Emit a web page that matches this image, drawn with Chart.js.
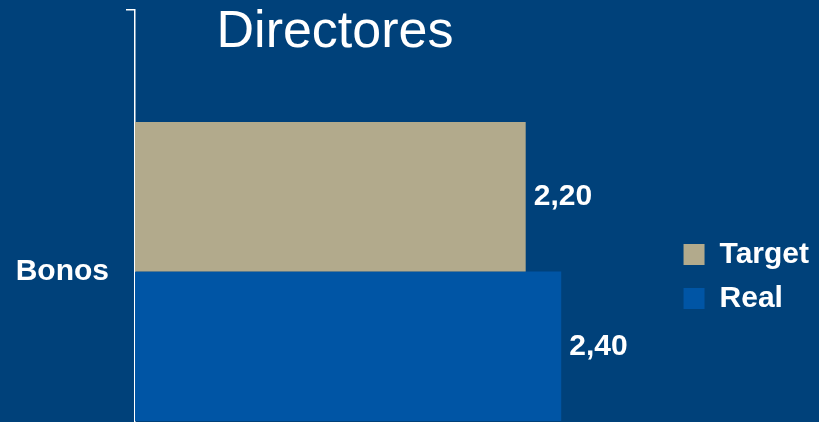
<!DOCTYPE html>
<html>
<head>
<meta charset="utf-8">
<script src="https://cdn.jsdelivr.net/npm/chart.js@4"></script>
<style>
  html, body { margin: 0; padding: 0; background: #00417a; overflow: hidden; }
  #wrap { width: 819px; height: 545px; position: relative; }
</style>
</head>
<body>
<div id="wrap"><canvas id="chart"></canvas></div>
<script>
// datos del gráfico
const categorias = ['Bonos'];
const target = [2.20];
const real = [2.40];
const titulo = 'Directores';

const fuente = "'Liberation Sans', Arial, sans-serif";

// título dentro del área del gráfico
const tituloPlugin = {
    id: 'tituloPlugin',
    afterDraw(chart) {
        const c = chart.ctx;
        c.save();
        c.fillStyle = '#ffffff';
        c.font = '52px ' + fuente;
        c.textAlign = 'center';
        c.textBaseline = 'alphabetic';
        c.fillText(titulo, 335, 47);
        c.restore();
    }
};

// etiquetas de valor al final de cada barra
const valoresPlugin = {
    id: 'valoresPlugin',
    afterDatasetsDraw(chart) {
        const c = chart.ctx;
        c.save();
        c.fillStyle = '#ffffff';
        c.font = 'bold 30px ' + fuente;
        c.textAlign = 'left';
        c.textBaseline = 'middle';
        chart.data.datasets.forEach((ds, i) => {
            chart.getDatasetMeta(i).data.forEach((bar, j) => {
                const txt = ds.data[j].toFixed(2).replace('.', ',');
                c.fillText(txt, bar.x + 8, bar.y);
            });
        });
        c.restore();
    }
};

new Chart(document.getElementById('chart'), {
    type: 'bar',
    data: {
        labels: categorias,
        datasets: [
            { label: 'Target', data: target, backgroundColor: '#b2aa8c' },
            { label: 'Real', data: real, backgroundColor: '#0055a5' }
        ]
    },
    options: {
        indexAxis: 'y',
        responsive: true,
        maintainAspectRatio: false,
        animation: false,
        categoryPercentage: 0.572,
        barPercentage: 1,
        layout: { padding: { top: 10, bottom: 12, left: 0, right: 0 } },
        scales: {
            x: { display: false, min: 0, max: 3.01 },
            y: {
                afterFit(scale) {
                    scale.width = 135;
                    scale.paddingTop = 0;
                    scale.paddingBottom = 0;
                },
                border: { color: '#ffffff', width: 1.5 },
                grid: { drawOnChartArea: false, drawTicks: true, tickLength: 9, color: '#ffffff', lineWidth: 1.5 },
                ticks: { color: '#ffffff', padding: 17, font: { family: fuente, size: 30, weight: 'bold' } }
            }
        },
        plugins: {
            legend: {
                position: 'right',
                title: { display: true, text: ' ', font: { size: 1 }, padding: { top: 0, bottom: 9 } },
                labels: {
                    color: '#ffffff',
                    boxWidth: 21,
                    boxHeight: 21,
                    padding: 14,
                    font: { family: fuente, size: 30, weight: 'bold' }
                }
            },
            tooltip: { enabled: false }
        }
    },
    plugins: [tituloPlugin, valoresPlugin]
});
</script>
</body>
</html>
